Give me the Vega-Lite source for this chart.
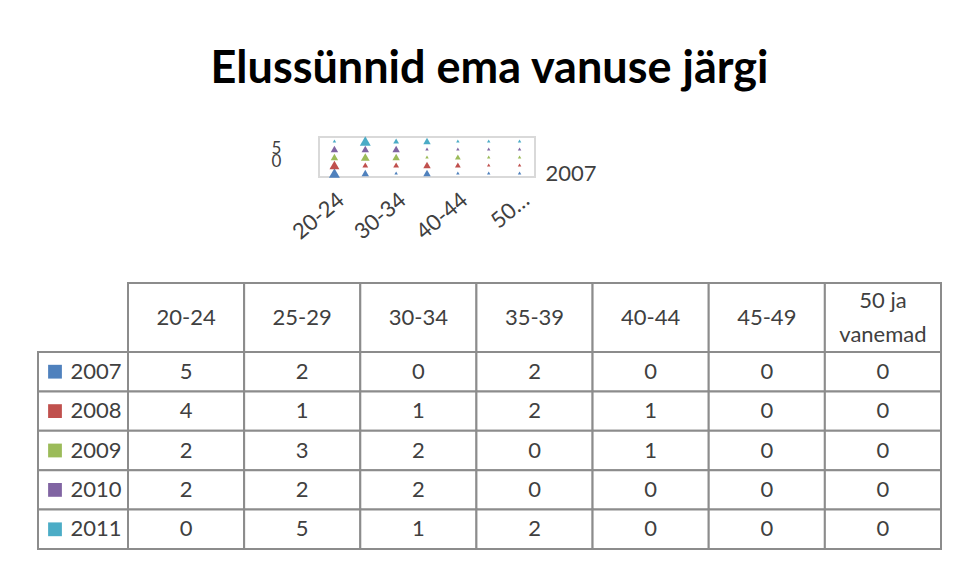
{
  "$schema": "https://vega.github.io/schema/vega-lite/v6.json",
  "padding": {"left": 37, "top": 47, "right": 10, "bottom": 5},
  "background": "white",
  "title": {"text": "Elussünnid ema vanuse järgi", "font": "Lato", "fontSize": 45, "fontWeight": "bold", "color": "#000000", "anchor": "middle", "offset": 37},
  "config": {"view": {"stroke": null}, "font": "Lato"},
  "datasets": {
    "births": [
      {"year": "2007", "age": "20-24", "value": 5}, {"year": "2007", "age": "25-29", "value": 2}, {"year": "2007", "age": "30-34", "value": 0}, {"year": "2007", "age": "35-39", "value": 2}, {"year": "2007", "age": "40-44", "value": 0}, {"year": "2007", "age": "45-49", "value": 0}, {"year": "2007", "age": "50 ja vanemad", "value": 0},
      {"year": "2008", "age": "20-24", "value": 4}, {"year": "2008", "age": "25-29", "value": 1}, {"year": "2008", "age": "30-34", "value": 1}, {"year": "2008", "age": "35-39", "value": 2}, {"year": "2008", "age": "40-44", "value": 1}, {"year": "2008", "age": "45-49", "value": 0}, {"year": "2008", "age": "50 ja vanemad", "value": 0},
      {"year": "2009", "age": "20-24", "value": 2}, {"year": "2009", "age": "25-29", "value": 3}, {"year": "2009", "age": "30-34", "value": 2}, {"year": "2009", "age": "35-39", "value": 0}, {"year": "2009", "age": "40-44", "value": 1}, {"year": "2009", "age": "45-49", "value": 0}, {"year": "2009", "age": "50 ja vanemad", "value": 0},
      {"year": "2010", "age": "20-24", "value": 2}, {"year": "2010", "age": "25-29", "value": 2}, {"year": "2010", "age": "30-34", "value": 2}, {"year": "2010", "age": "35-39", "value": 0}, {"year": "2010", "age": "40-44", "value": 0}, {"year": "2010", "age": "45-49", "value": 0}, {"year": "2010", "age": "50 ja vanemad", "value": 0},
      {"year": "2011", "age": "20-24", "value": 0}, {"year": "2011", "age": "25-29", "value": 5}, {"year": "2011", "age": "30-34", "value": 1}, {"year": "2011", "age": "35-39", "value": 2}, {"year": "2011", "age": "40-44", "value": 0}, {"year": "2011", "age": "45-49", "value": 0}, {"year": "2011", "age": "50 ja vanemad", "value": 0}
    ],
    "ages": [
      {"age": "20-24", "label": "20-24"}, {"age": "25-29", "label": "25-29"}, {"age": "30-34", "label": "30-34"}, {"age": "35-39", "label": "35-39"}, {"age": "40-44", "label": "40-44"}, {"age": "45-49", "label": "45-49"}, {"age": "50 ja vanemad", "label": "50 ja\nvanemad"}
    ],
    "years": [{"year": "2007"}, {"year": "2008"}, {"year": "2009"}, {"year": "2010"}, {"year": "2011"}],
    "corner": [{"t": ""}]
  },
  "spacing": 37,
  "vconcat": [
    {
      "spacing": 0,
      "hconcat": [
        {
          "width": 232, "height": 40,
          "data": {"name": "corner"},
          "mark": {"type": "text"},
          "encoding": {"text": {"field": "t"}}
        },
        {
          "width": 216,
          "height": 40,
          "data": {"name": "births"},
          "view": {"stroke": "#d9d9d9", "strokeWidth": 2},
          "layer": [
            {
              "mark": {"type": "point", "shape": "triangle-up", "filled": true, "opacity": 1},
              "encoding": {
                "x": {"field": "age", "type": "nominal", "sort": ["20-24", "25-29", "30-34", "35-39", "40-44", "45-49", "50 ja vanemad"],
                      "scale": {"paddingInner": 0, "paddingOuter": 0.2},
                      "axis": {"title": null, "labelAngle": -40, "labelOverlap": false, "labelFontSize": 22, "labelColor": "#404040", "ticks": false, "domain": false, "labelPadding": 12,
                               "labelExpr": "datum.value == '20-24' || datum.value == '30-34' || datum.value == '40-44' ? datum.value : (datum.value == '50 ja vanemad' ? '50…' : '')"}},
                "y": {"field": "year", "type": "ordinal", "sort": "descending",
                      "axis": {"orient": "left", "labels": false, "ticks": false, "domain": false, "title": ["5", "0"], "titleAngle": 0, "titleFontSize": 17, "titleFontWeight": "normal", "titleColor": "#404040", "titleLineHeight": 13, "titlePadding": 30, "minExtent": 0}},
                "size": {"field": "value", "type": "quantitative", "scale": {"domain": [0, 5], "range": [12, 120]}, "legend": null},
                "color": {"field": "year", "type": "nominal", "scale": {"domain": ["2007", "2008", "2009", "2010", "2011"], "range": ["#4F81BD", "#C0504D", "#9BBB59", "#8064A2", "#4BACC6"]}, "legend": null}
              }
            },
            {
              "mark": {"type": "point", "opacity": 0},
              "encoding": {
                "x": {"field": "age", "type": "nominal", "sort": ["20-24", "25-29", "30-34", "35-39", "40-44", "45-49", "50 ja vanemad"]},
                "y": {"field": "year", "type": "ordinal", "sort": "descending",
                      "axis": {"orient": "right", "title": null, "ticks": false, "domain": false, "labelFontSize": 22, "labelColor": "#404040", "labelPadding": 10,
                               "labelExpr": "datum.value == '2007' ? '2007' : ''"}}
              }
            }
          ],
          "resolve": {"axis": {"y": "independent"}}
        }
      ]
    },
    {
      "columns": 2,
      "spacing": 0,
      "bounds": "flush",
      "concat": [
        {
          "width": 90, "height": 69,
          "data": {"name": "corner"},
          "mark": {"type": "text"},
          "encoding": {"text": {"field": "t"}}
        },
        {
          "width": 813, "height": 69,
          "data": {"name": "ages"},
          "encoding": {"x": {"field": "age", "type": "nominal", "sort": ["20-24", "25-29", "30-34", "35-39", "40-44", "45-49", "50 ja vanemad"], "scale": {"paddingInner": 0, "paddingOuter": 0}, "axis": null}},
          "layer": [
            {"mark": {"type": "rect", "fill": "white", "stroke": "#8c8c8c", "strokeWidth": 2}},
            {"transform": [{"filter": "datum.age != '50 ja vanemad'"}],
             "mark": {"type": "text", "fontSize": 22, "color": "#404040"}, "encoding": {"text": {"field": "label"}}},
            {"transform": [{"filter": "datum.age == '50 ja vanemad'"}],
             "mark": {"type": "text", "fontSize": 22, "color": "#404040", "lineBreak": "\n", "lineHeight": 34, "dy": -17}, "encoding": {"text": {"field": "label"}}}
          ]
        },
        {
          "width": 90, "height": 197,
          "data": {"name": "years"},
          "encoding": {"y": {"field": "year", "type": "ordinal", "sort": "ascending", "scale": {"paddingInner": 0, "paddingOuter": 0}, "axis": null}},
          "layer": [
            {"mark": {"type": "rect", "fill": "white", "stroke": "#8c8c8c", "strokeWidth": 2}},
            {"mark": {"type": "point", "shape": "square", "filled": true, "opacity": 1, "size": 190, "xOffset": -28},
             "encoding": {"color": {"field": "year", "type": "nominal", "scale": {"domain": ["2007", "2008", "2009", "2010", "2011"], "range": ["#4F81BD", "#C0504D", "#9BBB59", "#8064A2", "#4BACC6"]}, "legend": null}}},
            {"mark": {"type": "text", "fontSize": 22, "color": "#404040", "dx": 13}, "encoding": {"text": {"field": "year"}}}
          ]
        },
        {
          "width": 813, "height": 197,
          "data": {"name": "births"},
          "encoding": {
            "x": {"field": "age", "type": "nominal", "sort": ["20-24", "25-29", "30-34", "35-39", "40-44", "45-49", "50 ja vanemad"], "scale": {"paddingInner": 0, "paddingOuter": 0}, "axis": null},
            "y": {"field": "year", "type": "ordinal", "sort": "ascending", "scale": {"paddingInner": 0, "paddingOuter": 0}, "axis": null}
          },
          "layer": [
            {"mark": {"type": "rect", "fill": "white", "stroke": "#8c8c8c", "strokeWidth": 2}},
            {"mark": {"type": "text", "fontSize": 22, "color": "#404040"}, "encoding": {"text": {"field": "value", "type": "quantitative"}}}
          ]
        }
      ]
    }
  ]
}
